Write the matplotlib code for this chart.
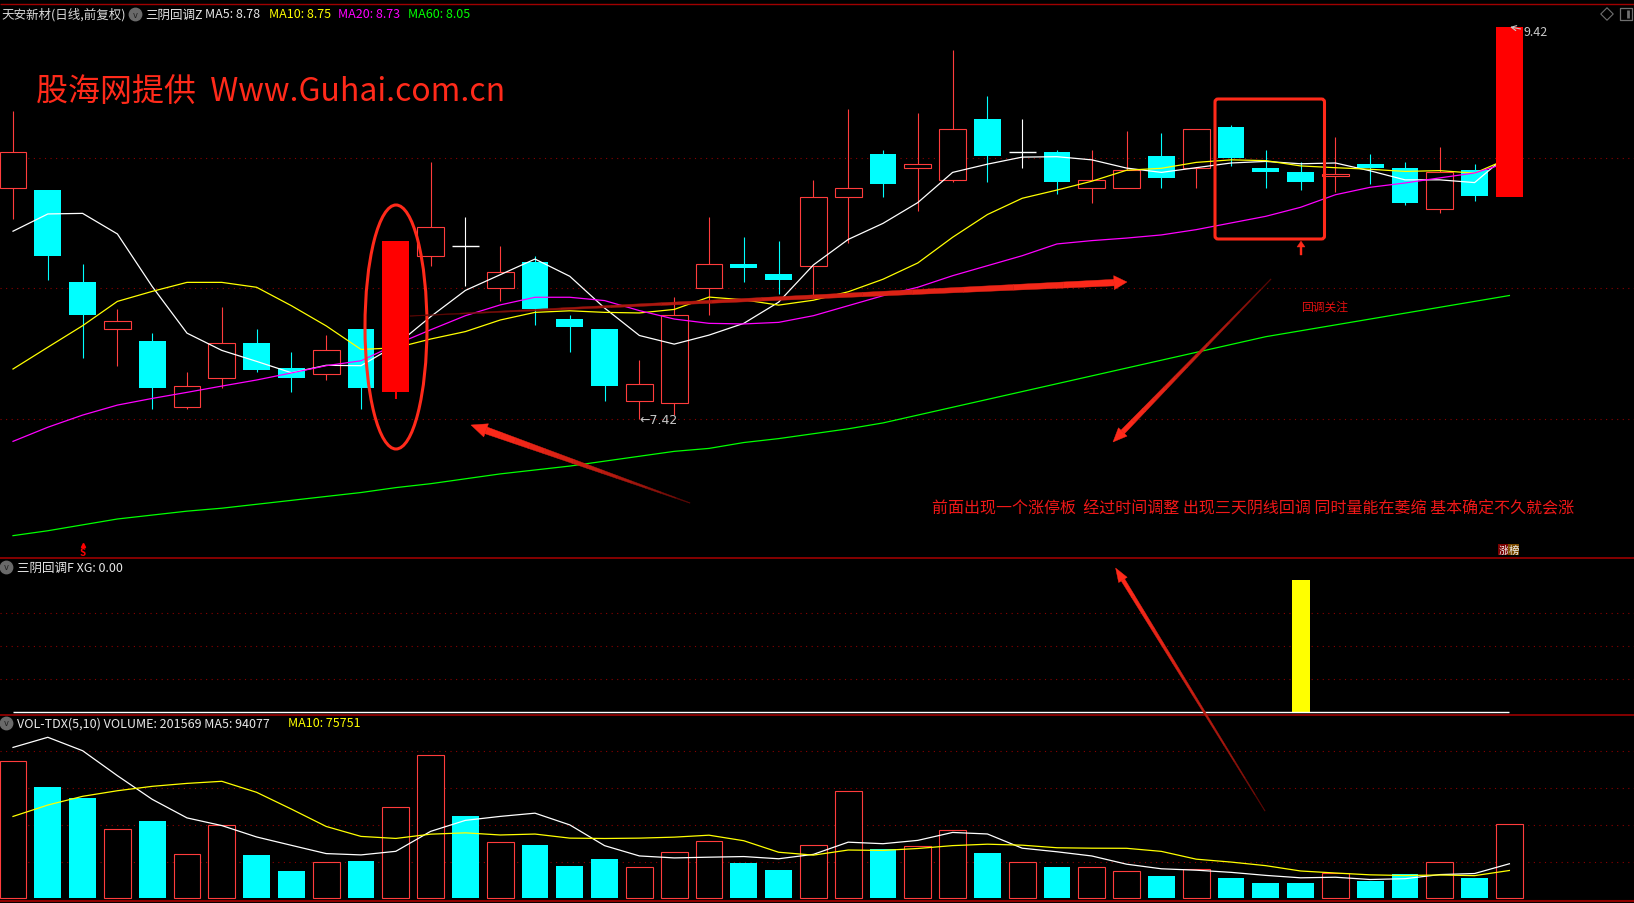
import numpy as np
import matplotlib
matplotlib.use('Agg')
import matplotlib.pyplot as plt
from matplotlib.patches import Ellipse, FancyBboxPatch, Polygon
from matplotlib.transforms import blended_transform_factory
from matplotlib.colors import to_rgb

plt.rcParams['font.family'] = ['Noto Sans CJK SC', 'DejaVu Sans']

# 天安新材 daily bars (前复权)
opens = [8.60, 8.59, 8.12, 7.88, 7.82, 7.48, 7.63, 7.81, 7.68, 7.65,
         7.88, 7.56, 8.25, 8.30, 8.09, 8.22, 7.93, 7.88, 7.51, 7.50,
         8.09, 8.21, 8.16, 8.20, 8.55, 8.77, 8.70, 8.64, 8.95, 8.78,
         8.78, 8.60, 8.60, 8.76, 8.70, 8.91, 8.70, 8.68, 8.66, 8.72,
         8.70, 8.49, 8.69, 8.55]
highs = [8.99, 8.59, 8.21, 7.98, 7.86, 7.66, 7.99, 7.88, 7.76, 7.85,
         7.88, 8.33, 8.73, 8.45, 8.30, 8.25, 7.95, 7.88, 7.72, 8.04,
         8.45, 8.35, 8.33, 8.64, 9.00, 8.79, 8.98, 9.30, 9.07, 8.95,
         8.79, 8.79, 8.89, 8.88, 8.90, 8.92, 8.79, 8.73, 8.86, 8.77,
         8.73, 8.81, 8.72, 9.42]
lows = [8.44, 8.13, 7.73, 7.69, 7.47, 7.47, 7.58, 7.66, 7.56, 7.62,
        7.47, 7.52, 8.20, 8.10, 8.02, 7.90, 7.76, 7.51, 7.42, 7.44,
        7.95, 8.12, 8.06, 8.05, 8.32, 8.55, 8.48, 8.63, 8.63, 8.70,
        8.57, 8.52, 8.60, 8.60, 8.60, 8.71, 8.60, 8.59, 8.58, 8.62,
        8.51, 8.47, 8.53, 8.55]
closes = [8.78, 8.25, 7.95, 7.92, 7.58, 7.59, 7.81, 7.67, 7.63, 7.77,
          7.58, 8.33, 8.40, 8.30, 8.17, 7.98, 7.89, 7.59, 7.60, 7.95,
          8.21, 8.19, 8.13, 8.55, 8.60, 8.62, 8.72, 8.90, 8.76, 8.78,
          8.63, 8.64, 8.69, 8.65, 8.90, 8.75, 8.68, 8.63, 8.67, 8.70,
          8.52, 8.68, 8.56, 9.42]

# moving averages as drawn (they start before the first visible bar)
ma5 = [8.378, 8.466, 8.469, 8.364, 8.096, 7.858, 7.770, 7.714, 7.656, 7.694,
       7.692, 7.796, 7.942, 8.076, 8.156, 8.236, 8.148, 7.986, 7.846, 7.802,
       7.848, 7.908, 8.016, 8.206, 8.336, 8.418, 8.524, 8.678, 8.720, 8.756,
       8.758, 8.742, 8.700, 8.678, 8.702, 8.726, 8.734, 8.722, 8.726, 8.686,
       8.640, 8.640, 8.626, 8.776]
ma10 = [7.675, 7.786, 7.896, 8.020, 8.071, 8.117, 8.117, 8.092, 7.998, 7.895,
        7.775, 7.783, 7.828, 7.866, 7.925, 7.964, 7.972, 7.964, 7.961, 7.979,
        8.042, 8.028, 8.001, 8.026, 8.069, 8.133, 8.216, 8.347, 8.463, 8.546,
        8.588, 8.633, 8.689, 8.699, 8.729, 8.742, 8.738, 8.711, 8.702, 8.694,
        8.683, 8.687, 8.674, 8.751]
ma20 = [7.306, 7.378, 7.440, 7.491, 7.525, 7.556, 7.588, 7.619, 7.655, 7.692,
        7.717, 7.800, 7.875, 7.947, 8.002, 8.041, 8.041, 8.024, 7.973, 7.930,
        7.908, 7.905, 7.913, 7.947, 7.998, 8.049, 8.092, 8.151, 8.202, 8.253,
        8.313, 8.330, 8.343, 8.359, 8.386, 8.420, 8.454, 8.500, 8.564, 8.602,
        8.624, 8.650, 8.675, 8.730]
ma60 = [6.825, 6.850, 6.880, 6.910, 6.930, 6.950, 6.965, 6.985, 7.005, 7.025,
        7.045, 7.070, 7.090, 7.115, 7.140, 7.160, 7.180, 7.205, 7.230, 7.255,
        7.270, 7.300, 7.320, 7.345, 7.370, 7.400, 7.440, 7.480, 7.520, 7.560,
        7.600, 7.640, 7.680, 7.720, 7.760, 7.800, 7.840, 7.870, 7.900, 7.930,
        7.960, 7.990, 8.020, 8.050]

# 三阴回调F signal
xg = [0, 0, 0, 0, 0, 0, 0, 0, 0, 0, 0, 0, 0, 0, 0, 0, 0, 0, 0, 0, 0, 0,
      0, 0, 0, 0, 0, 0, 0, 0, 0, 0, 0, 0, 0, 0, 0, 1, 0, 0, 0, 0, 0, 0]

volume = [373200, 303200, 273200, 188000, 210600, 119900, 198900, 117900, 74400, 98100,
          101600, 247900, 389500, 224200, 152500, 145200, 88000, 107100, 84400, 125300,
          155300, 96200, 77100, 144400, 291500, 134300, 141600, 185200, 123400, 98100,
          85300, 84400, 73500, 60700, 79000, 56000, 43000, 40500, 68600, 48000,
          67000, 99000, 54800, 201569]
vol_ma5 = [411000, 438600, 402000, 334000, 269600, 219000, 198100, 167100, 144300, 121800,
           118200, 128000, 182300, 212300, 223100, 231900, 199900, 143400, 115400, 110000,
           112000, 113700, 107700, 119700, 152900, 148700, 157800, 179400, 175200, 136500,
           126700, 115300, 92900, 80400, 76600, 70700, 62400, 55800, 57400, 51200,
           53400, 64600, 67500, 94077]
vol_ma10 = [223000, 254000, 277800, 293000, 305000, 313000, 318700, 288700, 243000, 195700,
            168600, 163100, 174700, 178300, 172500, 175000, 163900, 162900, 163900, 166600,
            171900, 156800, 125500, 117600, 131500, 130400, 135700, 143500, 147400, 144700,
            137700, 136500, 136200, 127800, 106600, 98700, 88900, 74400, 68900, 63900,
            62100, 63500, 61700, 75751]

note = "前面出现一个涨停板  经过时间调整 出现三天阴线回调 同时量能在萎缩 基本确定不久就会涨"

RED = '#ff3c3c'
CYAN = '#00ffff'
GRID = '#8c0000'
ANNO = '#ff2a1a'

W, H = 1634, 904
STEP, X0 = 34.8, 13.0          # pixel pitch of the bars

fig = plt.figure(figsize=(W / 100, H / 100), dpi=100, facecolor='black')


def panel(top, bottom):
    a = fig.add_axes([0, 1 - bottom / H, 1, (bottom - top) / H])
    a.set_facecolor('black')
    a.set_xlim(-X0 / STEP, (W - X0) / STEP)
    for s in a.spines.values():
        s.set_visible(False)
    a.set_xticks([])
    a.set_yticks([])
    return a


ax = panel(5, 559)
ax2 = panel(559, 716)
ax3 = panel(716, 902)
ax.set_ylim(6.711, 9.537)
ax2.set_ylim(-0.0204, 1.166)
ax3.set_ylim(-7355, 499300)

o, h, l, c = (np.array(v) for v in (opens, highs, lows, closes))
x = np.arange(len(c))
prev = np.r_[c[0], c[:-1]]
limit = c >= prev * 1.095
flat = np.isclose(c, o)
up = (c > o) & ~flat & ~limit
down = (c < o) & ~flat
bw = 0.765
lw = 0.8

dots = dict(color=GRID, lw=0.8, linestyle=(0, (1, 4)), zorder=1)
for lv in np.linspace(l.min(), h.max(), 4)[:-1]:
    ax.axhline(lv, **dots)
for lv in [0.25, 0.5, 0.75]:
    ax2.axhline(lv, **dots)
for lv in [100000, 200000, 300000, 400000]:
    ax3.axhline(lv, **dots)

# candles
ax.vlines(x[up], c[up], h[up], color=RED, lw=lw, zorder=3)
ax.vlines(x[up], l[up], o[up], color=RED, lw=lw, zorder=3)
ax.bar(x[up], c[up] - o[up], bottom=o[up], width=bw, facecolor='black',
       edgecolor=RED, linewidth=lw, zorder=3)
ax.vlines(x[down], l[down], h[down], color=CYAN, lw=lw, zorder=2)
ax.bar(x[down], o[down] - c[down], bottom=c[down], width=bw, color=CYAN, zorder=3)
ax.vlines(x[flat], l[flat], h[flat], color='white', lw=lw, zorder=3)
ax.hlines(c[flat], x[flat] - bw / 2, x[flat] + bw / 2, color='white', lw=1.0, zorder=3)
ax.vlines(x[limit], l[limit], h[limit], color='#ff0000', lw=1.4, zorder=6)
ax.bar(x[limit], c[limit] - o[limit], bottom=o[limit], width=bw, color='#ff0000', zorder=6)

for vals, col in [(ma5, 'white'), (ma10, '#ffff00'), (ma20, '#ff00ff'), (ma60, '#00ff00')]:
    ax.plot(x, vals, color=col, lw=0.9, zorder=5)

ilo, ihi = int(np.argmin(l)), int(np.argmax(h))
ax.text(x[ilo], l[ilo], '←%.2f' % l[ilo], color='#c8c8c8', fontsize=9,
        ha='left', va='center', family=['DejaVu Sans'], zorder=7)
ax.annotate('%.2f' % h[ihi], xy=(x[ihi] + 0.02, h[ihi]), xytext=(x[ihi] + 0.4, h[ihi] - 0.025),
            color='#c8c8c8', fontsize=9, ha='left', va='center', zorder=7,
            arrowprops=dict(arrowstyle='->', color='#c8c8c8', lw=0.8, shrinkA=0, shrinkB=0))

# sell mark under bar 2 and 涨榜 tag
bt = blended_transform_factory(ax.transData, ax.transAxes)
ax.plot([2], [0.024], marker='^', ms=3, color='#ff0000', transform=bt, zorder=7)
ax.text(2, 0.01, 'S', color='#ff0000', fontsize=7, fontweight='bold', ha='center',
        va='center', transform=bt, zorder=7)
ax.text(x[-1] - 0.02, 0.015, '涨', color='#f0f0f0', fontsize=7.5, ha='right', va='center',
        transform=bt, bbox=dict(fc='#7a0000', ec='none', pad=0.3), zorder=7)
ax.text(x[-1] - 0.02, 0.015, '榜', color='#f0f0f0', fontsize=7.5, ha='left', va='center',
        transform=bt, bbox=dict(fc='#7a4a00', ec='none', pad=0.3), zorder=7)

# 三阴回调F panel
ax2.bar(x, xg, width=0.52, color='#ffff00', zorder=3)
ax2.hlines(0, x[0], x[-1], color='white', lw=1.0, zorder=4)

# volume panel
v = np.array(volume)
vup = (c > o) | (flat & (c >= prev))
ax3.bar(x[vup], v[vup], width=bw, facecolor='black', edgecolor=RED, linewidth=lw, zorder=3)
ax3.bar(x[~vup], v[~vup], width=bw, color=CYAN, zorder=3)
ax3.plot(x, vol_ma5, color='white', lw=0.9, zorder=5)
ax3.plot(x, vol_ma10, color='#ffff00', lw=0.9, zorder=5)

# overlay in screen pixels for the frame lines, titles and hand drawn marks
ov = fig.add_axes([0, 0, 1, 1], zorder=10)
ov.set_xlim(0, W)
ov.set_ylim(H, 0)
ov.axis('off')
ov.patch.set_visible(False)

ov.hlines([5], 0, W, color='#a00000', lw=1.0)
ov.hlines([559, 716], 0, W, color='#900000', lw=1.3)
ov.hlines([902], 0, W, color='#900000', lw=1.5)


def badge(px, py):
    ov.scatter([px], [py], s=80, color='#6a6a6a', zorder=11)
    ov.text(px, py, 'v', fontsize=6, color='#222222', ha='center', va='center',
            family=['DejaVu Sans'], zorder=12)


fs = 9
ov.text(1, 15, '天安新材(日线,前复权)', color='#d8d8d8', fontsize=fs, va='center')
badge(135, 15)
ov.text(145, 15, '三阴回调Z', color='#e8e8e8', fontsize=fs, va='center')
ov.text(205, 15, 'MA5: %.2f' % ma5[-1], color='#e8e8e8', fontsize=fs, va='center')
ov.text(269, 15, 'MA10: %.2f' % ma10[-1], color='#ffff00', fontsize=fs, va='center')
ov.text(338, 15, 'MA20: %.2f' % ma20[-1], color='#ff00ff', fontsize=fs, va='center')
ov.text(408, 15, 'MA60: %.2f' % ma60[-1], color='#00ff00', fontsize=fs, va='center')
ov.scatter([1607], [15], marker='D', s=40, facecolor='none', edgecolor='#707070', lw=0.8)
ov.scatter([1626], [15], marker='s', s=70, facecolor='none', edgecolor='#707070', lw=0.9)
ov.scatter([1628], [15], marker='|', s=30, color='#707070', lw=2)

badge(6, 568)
ov.text(17, 568, '三阴回调F XG: %.2f' % xg[-1], color='#e8e8e8', fontsize=fs, va='center')
badge(6, 724)
ov.text(17, 724, 'VOL-TDX(5,10) VOLUME: %d MA5: %d' % (volume[-1], vol_ma5[-1]),
        color='#e8e8e8', fontsize=fs, va='center')
ov.text(288, 724, 'MA10: %d' % vol_ma10[-1], color='#ffff00', fontsize=fs, va='center')

# watermark and notes
ov.text(36, 93, '股海网提供  Www.Guhai.com.cn', color=ANNO, fontsize=23, va='center')
ov.text(932, 509, note, color='#f01818', fontsize=11.5, va='center')
ov.text(1301, 307, '回调关注', color='#e01010', fontsize=8.5, va='center')

ov.add_patch(Ellipse((396, 328), 62, 244, fill=False, ec=ANNO, lw=2.2, zorder=11))
ov.add_patch(FancyBboxPatch((1215, 100), 109.5, 140, boxstyle='round,pad=0,rounding_size=3',
                            fill=False, ec=ANNO, lw=2.2, zorder=11))


def arrow(tail, tip, w0, w1, hw, hl, n=14, fade=True):
    tail, tip = np.array(tail, float), np.array(tip, float)
    d = tip - tail
    u = d / np.hypot(*d)
    nv = np.array([-u[1], u[0]])
    neck = tip - u * hl
    dark, bright = np.array(to_rgb('#3a0000')), np.array(to_rgb(ANNO))
    for k in range(n):
        t0, t1 = k / n, (k + 1) / n
        p0, p1 = tail + (neck - tail) * t0, tail + (neck - tail) * t1
        a0, a1 = w0 + (w1 - w0) * t0, w0 + (w1 - w0) * t1
        col = dark + (bright - dark) * ((k + 0.5) / n) ** 0.5 if fade else bright
        ov.add_patch(Polygon([p0 + nv * a0 / 2, p1 + nv * a1 / 2, p1 - nv * a1 / 2,
                              p0 - nv * a0 / 2], closed=True, fc=col, ec=col, lw=0.3, zorder=11))
    ov.add_patch(Polygon([tip, neck + nv * hw / 2, neck - nv * hw / 2], closed=True,
                         fc=bright, ec=bright, lw=0.3, zorder=11))


arrow((410, 317), (1127, 283), 0.6, 6.5, 14, 13)
arrow((690, 504), (471, 426), 0.6, 7, 14, 16)
arrow((1265, 812), (1115.6, 569), 0.6, 4, 10, 14)
arrow((1271, 280), (1113, 443), 0.6, 5, 12, 14)
arrow((1301, 256), (1301, 242), 2, 2, 8, 6, n=1, fade=False)

fig.savefig('out.png', dpi=100, facecolor='black')
